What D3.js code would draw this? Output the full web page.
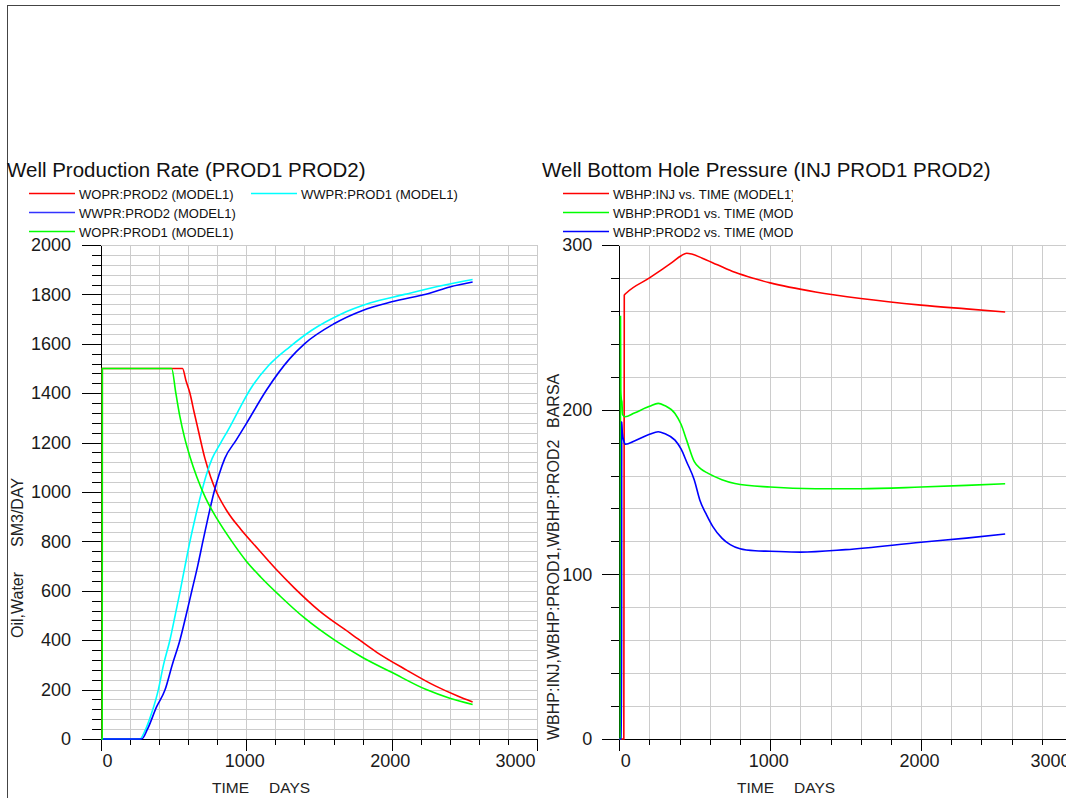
<!DOCTYPE html>
<html>
<head>
<meta charset="utf-8">
<script src="https://cdn.jsdelivr.net/npm/d3@7"></script>
<style>
  body { margin: 0; background: #fff; }
  svg { display: block; font-family: "Liberation Sans", Arial, sans-serif; }
  .grid line { stroke: #cccccc; stroke-width: 1; shape-rendering: crispEdges; }
  .axis path, .axis line { stroke: #000; shape-rendering: crispEdges; }
  .axis text { fill: #1a1a1a; font-size: 18px; font-family: "Liberation Sans", Arial, sans-serif; }
</style>
</head>
<body>
<svg id="chart" width="1066" height="798"></svg>
<script>
// time in days, rates in SM3/DAY
const woprProd2 = [[0,0],[8,0],[9,1500],[561,1500],[585,1450],[612,1400],[640,1325],[669,1251],[715,1136],[755,1060],[795,1000],[870,920],[960,850],[1079,770],[1200,690],[1333,610],[1500,520],[1711,430],[1900,350],[2100,280],[2300,215],[2450,175],[2557,150]];
const wwprProd1 = [[0,0],[268,0],[300,30],[348,104],[394,198],[430,300],[474,400],[510,500],[545,600],[578,700],[612,800],[650,900],[692,1000],[725,1070],[765,1136],[820,1195],[887,1264],[955,1340],[1024,1413],[1150,1510],[1299,1588],[1450,1655],[1650,1720],[1850,1765],[2089,1800],[2300,1830],[2557,1860]];
const wwprProd2 = [[0,0],[280,0],[320,40],[383,131],[440,198],[490,300],[543,400],[585,500],[625,600],[665,700],[701,800],[738,900],[778,1000],[812,1070],[852,1136],[930,1210],[1001,1278],[1139,1413],[1299,1540],[1400,1600],[1600,1680],[1800,1735],[2000,1770],[2261,1805],[2400,1830],[2557,1850]];
const woprProd1 = [[0,0],[8,0],[9,1500],[486,1500],[515,1400],[543,1305],[575,1220],[612,1143],[660,1060],[720,975],[800,890],[900,800],[1000,720],[1100,655],[1230,580],[1400,490],[1608,400],[1800,330],[2000,270],[2238,200],[2400,165],[2557,140]];

// bottom hole pressure, BARSA
const wbhpInj = [[0,0],[30,0],[33,269.5],[49,271],[200,280],[350,289.5],[410,293.5],[446,295],[480,294.5],[550,292],[650,288],[766,283.4],[900,279.5],[1000,277],[1300,271.5],[1600,267.5],[2000,263.5],[2300,261.2],[2557,259.3]];
const wbhpProd1 = [[0,0],[7,0],[8,257],[10,212],[12,208],[14,206],[17,205],[22,197],[38,195.7],[100,198],[200,202],[258,203.8],[300,202.5],[369,197.7],[410,191],[446,181.5],[497,168.4],[540,164],[589,161.3],[680,157.5],[766,155.2],[1000,153],[1300,152],[1600,152],[2000,153],[2300,154],[2557,155]];
const wbhpProd2 = [[0,0],[15,0],[16,192.6],[20,186],[30,181],[42,179],[100,181],[200,185],[258,186.6],[300,185.5],[369,181.5],[410,176],[446,168.4],[497,157.3],[534,145],[579,136],[620,129],[680,122],[735,118],[800,115.5],[900,114.3],[1000,114],[1200,113.5],[1500,115],[2000,119.5],[2300,122],[2557,124.5]];

const timeMajor = [0, 1000, 2000, 3000];
const timeMinor = [0,200,400,600,800,1000,1200,1400,1600,1800,2000,2200,2400,2600,2800,3000];
const rateMajor = [0,200,400,600,800,1000,1200,1400,1600,1800,2000];
const pressMajor = [0, 100, 200, 300];

const svg = d3.select('#chart');
const fmt = d3.format('d');

// outer frame
svg.append('line').attr('x1', 7.5).attr('x2', 7.5).attr('y1', 5).attr('y2', 798).attr('stroke', '#444');
svg.append('line').attr('x1', 7).attr('x2', 1060).attr('y1', 5.5).attr('y2', 5.5).attr('stroke', '#444');

function panel(opt) {
    const g = svg.append('g');
    const x = d3.scaleLinear().domain([0, 3000]).range(opt.xRange);
    const y = d3.scaleLinear().domain(opt.yDomain).range([739, 245]);

    // grid
    const grid = g.append('g').attr('class', 'grid');
    grid.selectAll('.gv').data(timeMinor.slice(1)).enter().append('line')
        .attr('x1', d => Math.round(x(d)) + 0.5).attr('x2', d => Math.round(x(d)) + 0.5)
        .attr('y1', y(opt.yDomain[1])).attr('y2', 739);
    grid.selectAll('.gh').data(d3.range(opt.yMinor, opt.yDomain[1] + 1, opt.yMinor)).enter().append('line')
        .attr('x1', opt.xRange[0]).attr('x2', opt.gridRight)
        .attr('y1', d => Math.round(y(d)) + 0.5).attr('y2', d => Math.round(y(d)) + 0.5);

    // axes
    const ax = opt.xRange[0];
    g.append('g').attr('class', 'axis').attr('transform', 'translate(0,739)')
        .call(d3.axisBottom(x).tickValues(timeMinor).tickSize(6).tickSizeOuter(0).tickFormat(''));
    const xa = g.append('g').attr('class', 'axis').attr('transform', 'translate(0,739)')
        .call(d3.axisBottom(x).tickValues(timeMajor).tickSize(12).tickSizeOuter(0).tickFormat(fmt));
    xa.selectAll('text').attr('y', 28).attr('dy', 0)
        .attr('text-anchor', (d, i) => i === 0 ? 'start' : (d === 3000 ? 'end' : 'middle'))
        .attr('dx', d => d === 0 ? 1 : -2);
    g.append('line').attr('x1', ax - opt.yMajorLen).attr('x2', ax).attr('y1', 739.5).attr('y2', 739.5).attr('stroke', '#000');

    g.append('g').attr('class', 'axis').attr('transform', `translate(${ax},0)`)
        .call(d3.axisLeft(y).tickValues(d3.range(opt.yDomain[0], opt.yDomain[1] + 1, opt.yMinor)).tickSize(opt.yMinorLen).tickSizeOuter(0).tickFormat(''));
    g.append('g').attr('class', 'axis').attr('transform', `translate(${ax},0)`)
        .call(d3.axisLeft(y).tickValues(opt.yMajor).tickSize(opt.yMajorLen).tickSizeOuter(0).tickPadding(opt.yPad).tickFormat(fmt));

    // curves
    const line = d3.line().x(d => x(d[0])).y(d => y(d[1])).curve(d3.curveMonotoneX);
    opt.series.forEach(s => {
        g.append('path').datum(s.data)
            .attr('fill', 'none')
            .attr('stroke', s.color)
            .attr('stroke-width', 1.6)
            .attr('d', line);
    });

    // titles and labels
    g.append('text').attr('x', opt.titleX).attr('y', 177)
        .style('font-size', '20.5px').attr('fill', '#111').text(opt.title);

    g.append('text').attr('x', opt.timeX).attr('y', 793).style('font-size', '15.5px').attr('fill', '#222').text('TIME');
    g.append('text').attr('x', opt.timeX + 57).attr('y', 793).style('font-size', '15.5px').attr('fill', '#222').text('DAYS');

    opt.yLabels.forEach(l => {
        g.append('text')
            .attr('transform', `translate(${opt.yLabelX},${l.y}) rotate(-90)`)
            .style('font-size', '16px').attr('fill', '#222').text(l.text);
    });

    // legend
    const leg = g.append('g');
    if (opt.legendClip) {
        svg.append('clipPath').attr('id', opt.legendClip.id)
            .append('rect').attr('x', opt.legendClip.x0).attr('y', 180).attr('width', opt.legendClip.x1 - opt.legendClip.x0).attr('height', 60);
        leg.attr('clip-path', `url(#${opt.legendClip.id})`);
    }
    opt.legend.forEach(it => {
        const ly = it.row * 19 + 193.5;
        leg.append('line').attr('x1', it.lx).attr('x2', it.lx + 46)
            .attr('y1', ly).attr('y2', ly).attr('stroke', it.color).attr('stroke-width', 1.3);
        leg.append('text').attr('x', it.lx + 50).attr('y', ly + 5.5)
            .style('font-size', '13px').attr('fill', '#111').text(it.name);
    });
}

panel({
    xRange: [101, 537],
    gridRight: 537,
    yDomain: [0, 2000],
    yMajor: rateMajor,
    yMinor: 40,
    yMajorLen: 19,
    yMinorLen: 9,
    yPad: 11,
    title: 'Well Production Rate (PROD1 PROD2)',
    titleX: 7,
    timeX: 212,
    yLabelX: 23,
    yLabels: [{ text: 'Oil,Water', y: 638 }, { text: 'SM3/DAY', y: 547 }],
    series: [
        { data: woprProd2, color: '#ff0000' },
        { data: wwprProd1, color: '#00ffff' },
        { data: wwprProd2, color: '#0000ff' },
        { data: woprProd1, color: '#00ff00' }
    ],
    legend: [
        { name: 'WOPR:PROD2 (MODEL1)', color: '#ff0000', row: 0, lx: 29 },
        { name: 'WWPR:PROD1 (MODEL1)', color: '#00ffff', row: 0, lx: 251 },
        { name: 'WWPR:PROD2 (MODEL1)', color: '#3333ff', row: 1, lx: 29 },
        { name: 'WOPR:PROD1 (MODEL1)', color: '#00ff00', row: 2, lx: 29 }
    ]
});

panel({
    xRange: [619.3, 1072],
    gridRight: 1072,
    yDomain: [0, 300],
    yMajor: pressMajor,
    yMinor: 20,
    yMajorLen: 17,
    yMinorLen: 8,
    yPad: 10,
    title: 'Well Bottom Hole Pressure (INJ PROD1 PROD2)',
    titleX: 542,
    timeX: 737,
    yLabelX: 559,
    yLabels: [{ text: 'WBHP:INJ,WBHP:PROD1,WBHP:PROD2', y: 740 }, { text: 'BARSA', y: 428 }],
    series: [
        { data: wbhpInj, color: '#ff0000' },
        { data: wbhpProd1, color: '#00ff00' },
        { data: wbhpProd2, color: '#0000ff' }
    ],
    legend: [
        { name: 'WBHP:INJ vs. TIME (MODEL1)', color: '#ff0000', row: 0, lx: 563 },
        { name: 'WBHP:PROD1 vs. TIME (MODEL1)', color: '#00ff00', row: 1, lx: 563 },
        { name: 'WBHP:PROD2 vs. TIME (MODEL1)', color: '#0000ff', row: 2, lx: 563 }
    ],
    legendClip: { id: 'legclip', x0: 540, x1: 793 }
});
</script>
</body>
</html>
